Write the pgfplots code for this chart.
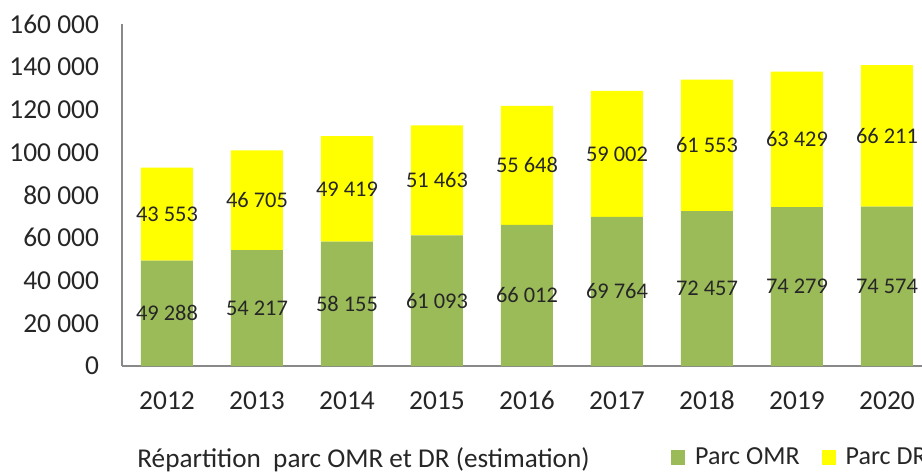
\documentclass[border=0pt]{standalone}
\usepackage{pgfplots}
\pgfplotsset{compat=1.18}
\usepackage{fontspec}
\setmainfont{Carlito}
\definecolor{omr}{HTML}{9BBB59}
\definecolor{dr}{HTML}{FFFF00}
\definecolor{axgray}{HTML}{898989}
\definecolor{txt}{HTML}{262626}
\begin{document}
\begin{tikzpicture}
\path[use as bounding box, clip] (-61pt,-53pt) rectangle (400pt,183pt);
\begin{axis}[
  at={(0,0)}, anchor=south west,
  scale only axis, width=400pt, height=171pt,
  ybar stacked, bar width=26pt,
  xmin=-0.5, xmax=8.389, ymin=0, ymax=160000,
  xtick={0,...,8},
  xticklabels={2012,2013,2014,2015,2016,2017,2018,2019,2020},
  ytick={0,20000,...,160000},
  scaled y ticks=false,
  yticklabel style={xshift=-8pt, /pgf/number format/fixed, /pgf/number format/1000 sep={\ }, /pgf/number format/assume math mode=true},
  tick label style={font=\fontsize{13.7}{16}\selectfont, text=txt},
  xticklabel style={yshift=-8.5pt, text height=9.5pt, text depth=2pt},
  axis x line*=bottom, axis y line*=left,
  axis line style={axgray, line width=1pt},
  major tick length=0pt, tick style={draw=none},
  point meta=rawy,
  nodes near coords,
  nodes near coords style={font=\fontsize{11.2}{13}\selectfont, text=txt, /pgf/number format/fixed, /pgf/number format/1000 sep={\ }, /pgf/number format/assume math mode=true},
  legend columns=2,
  legend style={at={(0.686,0)}, anchor=west, yshift=-45.75pt, draw=none, fill=none, inner xsep=0pt, font=\fontsize{13}{16}\selectfont, text=txt, /tikz/every even column/.append style={column sep=9pt}},
  legend image code/.code={\fill[#1,draw=none] (0pt,-3.75pt) rectangle (7pt,3.75pt);},
]
\addplot[fill=omr, draw=none] coordinates {(0,49288) (1,54217) (2,58155) (3,61093) (4,66012) (5,69764) (6,72457) (7,74279) (8,74574)};
\addplot[fill=dr, draw=none] coordinates {(0,43553) (1,46705) (2,49419) (3,51463) (4,55648) (5,59002) (6,61553) (7,63429) (8,66211)};
\legend{\hspace{3pt}Parc OMR, \hspace{3pt}Parc DR}
\end{axis}
\node[anchor=west, inner sep=0pt, font=\fontsize{13.6}{16}\selectfont, text=txt] at (7.5pt,-47pt) {Répartition\ \ parc OMR et DR (estimation)};
\end{tikzpicture}
\end{document}
